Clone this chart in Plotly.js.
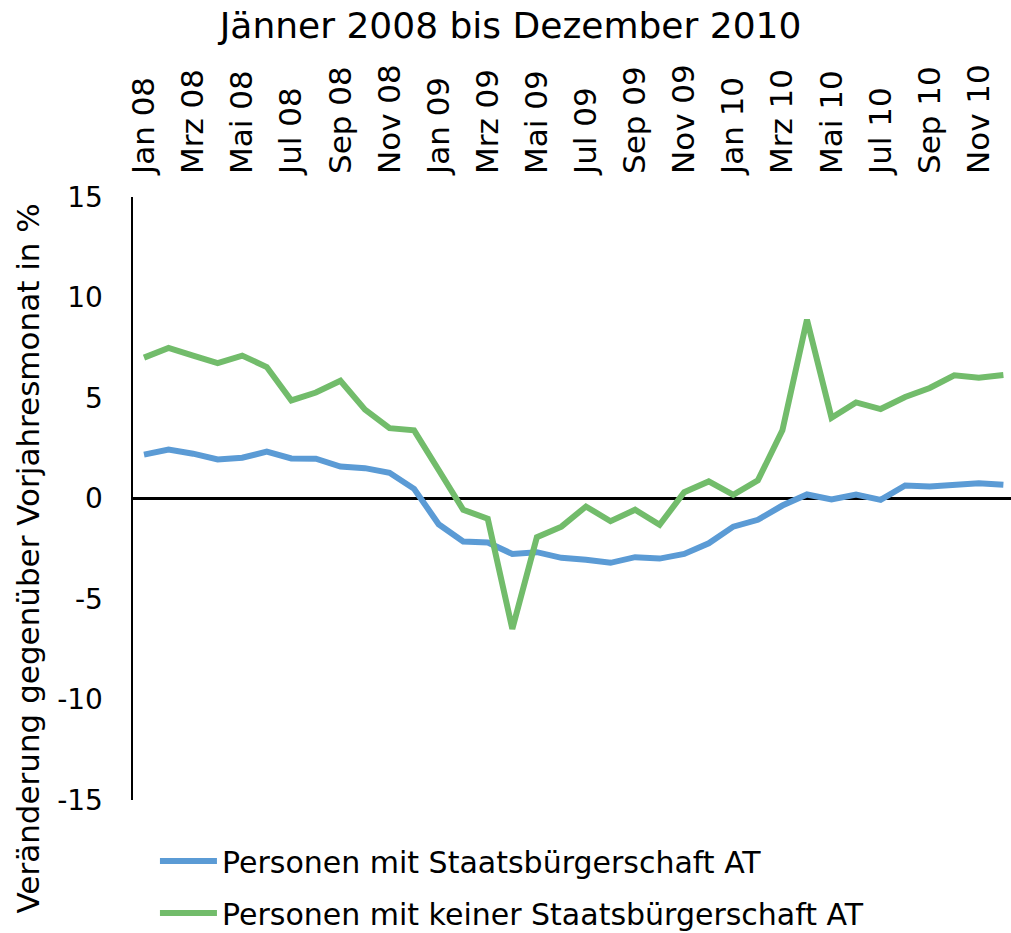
<!DOCTYPE html>
<html>
<head>
<meta charset="utf-8">
<script src="https://cdn.plot.ly/plotly-3.0.1.min.js"></script>
<style>
html,body{margin:0;padding:0;background:#fff;}
#chart{width:1011px;height:933px;}
</style>
</head>
<body>
<div id="chart"></div>
<script>
const months = [
  "Jan 08","Feb 08","Mrz 08","Apr 08","Mai 08","Jun 08","Jul 08","Aug 08","Sep 08","Okt 08","Nov 08","Dez 08",
  "Jan 09","Feb 09","Mrz 09","Apr 09","Mai 09","Jun 09","Jul 09","Aug 09","Sep 09","Okt 09","Nov 09","Dez 09",
  "Jan 10","Feb 10","Mrz 10","Apr 10","Mai 10","Jun 10","Jul 10","Aug 10","Sep 10","Okt 10","Nov 10","Dez 10"
];
const tickLabels = ["Jan 08","Mrz 08","Mai 08","Jul 08","Sep 08","Nov 08","Jan 09","Mrz 09","Mai 09",
  "Jul 09","Sep 09","Nov 09","Jan 10","Mrz 10","Mai 10","Jul 10","Sep 10","Nov 10"];
const citizensAT = [
  2.18, 2.43, 2.23, 1.94, 2.03, 2.33, 1.99, 1.98, 1.59, 1.51, 1.28, 0.48,
  -1.28, -2.14, -2.19, -2.76, -2.67, -2.95, -3.05, -3.20, -2.92, -2.99, -2.76, -2.23,
  -1.40, -1.06, -0.35, 0.20, -0.05, 0.20, -0.07, 0.65, 0.60, 0.68, 0.76, 0.68
];
const nonCitizensAT = [
  7.01, 7.49, 7.11, 6.74, 7.11, 6.54, 4.88, 5.27, 5.86, 4.42, 3.50, 3.39,
  1.42, -0.56, -1.01, -6.49, -1.93, -1.40, -0.40, -1.13, -0.56, -1.31, 0.31, 0.85,
  0.18, 0.90, 3.39, 8.90, 4.02, 4.78, 4.45, 5.05, 5.50, 6.13, 6.01, 6.14
];
const seriesNames = ["Personen mit Staatsbürgerschaft AT", "Personen mit keiner Staatsbürgerschaft AT"];
const yTicks = [-15, -10, -5, 0, 5, 10, 15];

const FONT = "'DejaVu Sans', sans-serif";

const traces = [
  {x: months, y: citizensAT, name: seriesNames[0], type: "scatter", mode: "lines", legendgroup: "a",
   line: {color: "#5B9BD5", width: 6, shape: "linear"}},
  {x: months, y: nonCitizensAT, name: seriesNames[1], type: "scatter", mode: "lines", legendgroup: "b",
   line: {color: "#72BC6B", width: 6, shape: "linear"}}
];

const layout = {
  width: 1011, height: 933,
  margin: {l: 133, r: 0, t: 197, b: 133, pad: 0, autoexpand: false},
  paper_bgcolor: "#fff", plot_bgcolor: "#fff",
  font: {family: FONT, color: "#000", size: 28},
  title: {text: "Jänner 2008 bis Dezember 2010", font: {family: FONT, size: 36, color: "#000"},
          x: 0.505, xanchor: "center", y: 0.973, yanchor: "middle"},
  showlegend: true,
  legend: {x: 0.025, xanchor: "left", y: -0.058, yanchor: "top", orientation: "v",
           font: {family: FONT, size: 30, color: "#000"}, itemwidth: 57, tracegroupgap: 10,
           bgcolor: "rgba(0,0,0,0)"},
  xaxis: {type: "category", side: "top", range: [-0.448, 35.31], automargin: false,
          tickmode: "array", tickvals: tickLabels, ticktext: tickLabels, tickangle: -90,
          showline: false, showgrid: false, zeroline: false, ticks: "",
          ticklabelstandoff: 22, tickfont: {family: FONT, size: 31, color: "#000"}},
  yaxis: {range: [-15, 15], tickmode: "array", tickvals: yTicks, ticktext: yTicks.map(String), automargin: false,
          showline: true, linecolor: "#000", linewidth: 2.5, showgrid: false,
          zeroline: true, zerolinecolor: "#000", zerolinewidth: 2.5, ticks: "",
          ticklabelstandoff: 22, tickfont: {family: FONT, size: 28, color: "#000"}},
  annotations: [{
    text: "Veränderung gegenüber Vorjahresmonat in %", textangle: -90,
    xref: "paper", yref: "paper", x: -0.12, y: 0.40, xanchor: "center", yanchor: "middle",
    showarrow: false, font: {family: FONT, size: 31, color: "#000"}
  }]
};

Plotly.newPlot("chart", traces, layout, {displayModeBar: false, staticPlot: true});
</script>
</body>
</html>
